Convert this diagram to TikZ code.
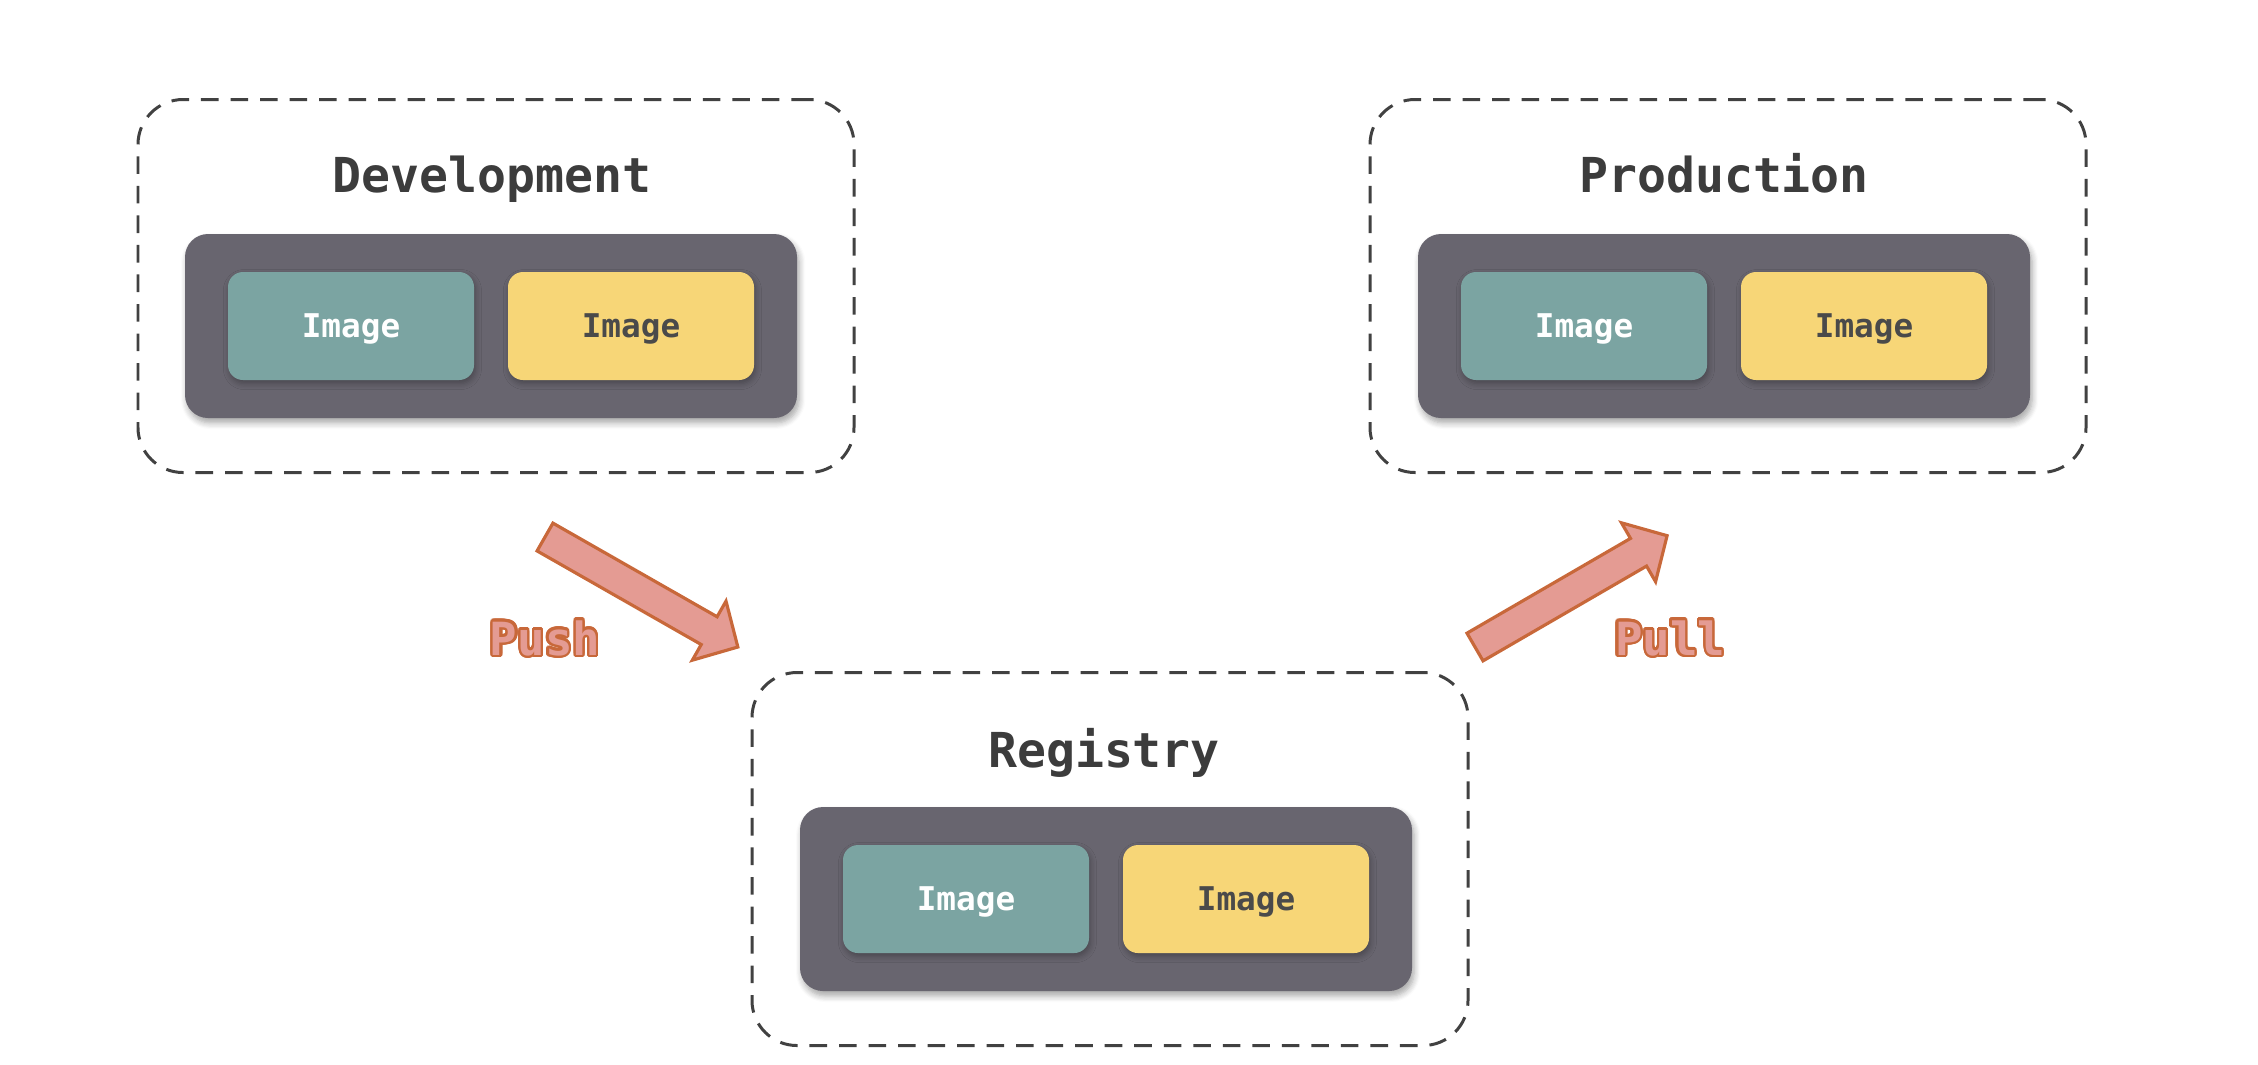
\documentclass[tikz,border=0pt]{standalone}
\usepackage{fontspec}
\usepackage{contour}
\usetikzlibrary{calc}
\usetikzlibrary{shadows.blur}
\newfontfamily\codefont{DejaVu Sans Mono}
\definecolor{stageline}{HTML}{414141}
\definecolor{titlegray}{HTML}{3C3C3C}
\definecolor{shelfgray}{HTML}{68656F}
\definecolor{imgteal}{HTML}{7BA4A2}
\definecolor{imgyellow}{HTML}{F7D677}
\definecolor{imgtext}{HTML}{4A4A4A}
\definecolor{arrowfill}{HTML}{E49B93}
\definecolor{arrowline}{HTML}{C8683A}
\contourlength{0.7pt}
\contournumber{24}
\tikzset{
 stage/.style={draw=stageline, line width=0.85pt, dash pattern=on 5pt off 3.4pt,
  rounded corners=0.45cm, minimum width=7.16cm, minimum height=3.73cm},
 shelf/.style={fill=shelfgray, rounded corners=0.23cm, minimum width=6.12cm, minimum height=1.84cm,
  blur shadow={shadow xshift=0.6pt, shadow yshift=-1.4pt, shadow blur steps=6, shadow opacity=35}},
 imgbox/.style={rounded corners=0.15cm, minimum width=2.46cm, minimum height=1.08cm,
  text height=0.238cm, text depth=0pt, font=\codefont\bfseries\fontsize{9.3}{10}\selectfont,
  blur shadow={shadow xshift=0.4pt, shadow yshift=-1pt, shadow blur steps=5, shadow opacity=30}},
 tealbox/.style={imgbox, fill=imgteal, text=white},
 yellowbox/.style={imgbox, fill=imgyellow, text=imgtext},
 stagetitle/.style={anchor=base, text=titlegray, font=\codefont\bfseries\fontsize{13.7}{15}\selectfont},
 movelabel/.style={anchor=base, font=\codefont\bfseries\fontsize{13}{14}\selectfont},
 blockarrow/.style={fill=arrowfill, draw=arrowline, line width=0.9pt, line join=miter},
}

\begin{document}
\begin{tikzpicture}
    \path[use as bounding box] (0,0) rectangle (22.58,-10.64);

    % development
    \node[stage] (dev) at (4.96,-2.86) {};
    \node[stagetitle] (devtitle) at ($(dev.center)+(-0.04,0.94)$) {Development};
    \node[shelf] (devshelf) at ($(dev.center)+(-0.05,-0.40)$) {};
    \node[tealbox] (devteal) at ($(devshelf.center)+(-1.40,0)$) {Image};
    \node[yellowbox] (devyellow) at ($(devshelf.center)+(1.40,0)$) {Image};

    % production
    \node[stage] (prod) at (17.28,-2.86) {};
    \node[stagetitle] (prodtitle) at ($(prod.center)+(-0.04,0.94)$) {Production};
    \node[shelf] (prodshelf) at ($(prod.center)+(-0.04,-0.40)$) {};
    \node[tealbox] (prodteal) at ($(prodshelf.center)+(-1.40,0)$) {Image};
    \node[yellowbox] (prodyellow) at ($(prodshelf.center)+(1.40,0)$) {Image};

    % registry
    \node[stage] (reg) at (11.10,-8.59) {};
    \node[stagetitle] (regtitle) at ($(reg.center)+(-0.06,0.92)$) {Registry};
    \node[shelf] (regshelf) at ($(reg.center)+(-0.04,-0.40)$) {};
    \node[tealbox] (regteal) at ($(regshelf.center)+(-1.40,0)$) {Image};
    \node[yellowbox] (regyellow) at ($(regshelf.center)+(1.40,0)$) {Image};

    % push and pull
    \draw[blockarrow, shift={(5.45,-5.37)}, rotate=-29.7]
        (0,0.16) -- (1.89,0.16) -- (1.89,0.34) -- (2.22,0) -- (1.89,-0.34) -- (1.89,-0.16) -- (0,-0.16) -- cycle;
    \draw[blockarrow, shift={(14.75,-6.47)}, rotate=30.1]
        (0,0.16) -- (1.89,0.16) -- (1.89,0.34) -- (2.22,0) -- (1.89,-0.34) -- (1.89,-0.16) -- (0,-0.16) -- cycle;
    \node[movelabel] (pushlabel) at (5.45,-6.55) {\contour{arrowline}{\textcolor{arrowfill}{Push}}};
    \node[movelabel] (pulllabel) at (16.70,-6.55) {\contour{arrowline}{\textcolor{arrowfill}{Pull}}};
\end{tikzpicture}
\end{document}
